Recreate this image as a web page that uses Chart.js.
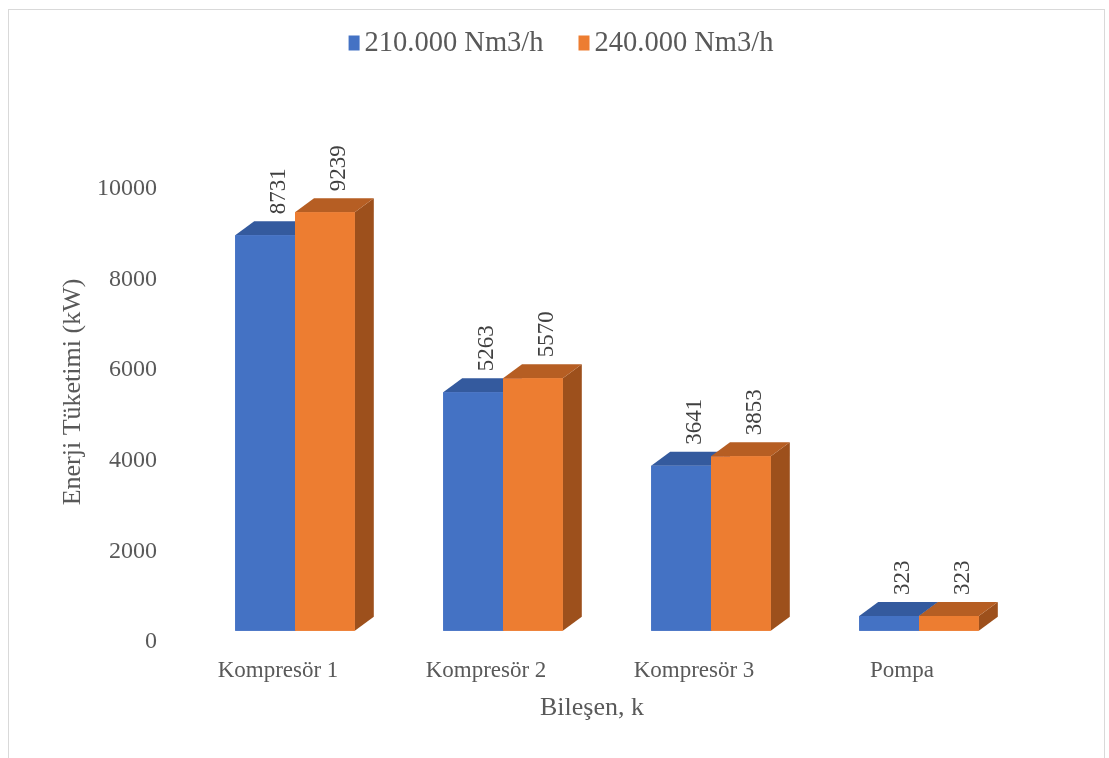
<!DOCTYPE html>
<html>
<head>
<meta charset="utf-8">
<script src="https://cdn.jsdelivr.net/npm/chart.js@4.4.1/dist/chart.umd.min.js"></script>
<style>
  html, body { margin: 0; padding: 0; background: #fff; }
</style>
</head>
<body>
<canvas id="energyChart" width="1109" height="758"></canvas>
<script>
const categories = ['Kompresör 1', 'Kompresör 2', 'Kompresör 3', 'Pompa'];
const seriesNames = ['210.000 Nm3/h', '240.000 Nm3/h'];
const flow210 = [8731, 5263, 3641, 323];
const flow240 = [9239, 5570, 3853, 323];
const yMax = 10000;
const yStep = 2000;

const FONT = '"Liberation Serif", "Times New Roman", serif';
const textGrey = '#595959';
const depth = { dx: 19, dy: 14 };
const faces = [
  { front: '#4472C4', top: '#345A9E', side: '#2C4D88' },
  { front: '#ED7D31', top: '#B65E23', side: '#9D501C' }
];

// fake 3d: side + top faces, then front again so the next bar covers it
const bars3d = {
  id: 'bars3d',
  beforeDraw(chart) {
    const { ctx, width, height } = chart;
    ctx.save();
    ctx.fillStyle = '#fff';
    ctx.fillRect(0, 0, width, height);
    ctx.strokeStyle = '#d9d9d9';
    ctx.lineWidth = 1;
    ctx.strokeRect(8.5, 9.5, 1096, height + 5);
    ctx.restore();
  },
  afterDatasetsDraw(chart) {
    const ctx = chart.ctx;
    const { dx, dy } = depth;
    chart.data.datasets.forEach((ds, i) => {
      const meta = chart.getDatasetMeta(i);
      meta.data.forEach((bar, j) => {
        const { x, y, base, width } = bar.getProps(['x', 'y', 'base', 'width'], true);
        const l = x - width / 2, r = x + width / 2;
        ctx.save();
        ctx.fillStyle = faces[i].side;
        ctx.beginPath();
        ctx.moveTo(r, y); ctx.lineTo(r + dx, y - dy);
        ctx.lineTo(r + dx, base - dy); ctx.lineTo(r, base);
        ctx.closePath(); ctx.fill();
        ctx.fillStyle = faces[i].top;
        ctx.beginPath();
        ctx.moveTo(l, y); ctx.lineTo(l + dx, y - dy);
        ctx.lineTo(r + dx, y - dy); ctx.lineTo(r, y);
        ctx.closePath(); ctx.fill();
        ctx.restore();
        bar.draw(ctx);

        ctx.save();
        ctx.translate(x + 14, y - dy - 7);
        ctx.rotate(-Math.PI / 2);
        ctx.font = '23px ' + FONT;
        ctx.fillStyle = '#404040';
        ctx.textAlign = 'left';
        ctx.textBaseline = 'middle';
        ctx.fillText(String(ds.data[j]), 0, 0);
        ctx.restore();
      });
    });
  },
  afterDraw(chart) {
    const ctx = chart.ctx;
    ctx.save();
    // legend
    ctx.font = '28.5px ' + FONT;
    ctx.textBaseline = 'middle';
    ctx.textAlign = 'left';
    const boxW = 11, boxH = 15, gap = 5, itemGap = 35;
    const widths = chart.data.datasets.map(d => ctx.measureText(d.label).width);
    const total = widths.reduce((a, w) => a + boxW + gap + w, 0) + itemGap * (widths.length - 1);
    let lx = 561 - total / 2;
    const ly = 43;
    chart.data.datasets.forEach((d, i) => {
      ctx.fillStyle = d.backgroundColor;
      ctx.fillRect(lx, ly - boxH / 2, boxW, boxH);
      lx += boxW + gap;
      ctx.fillStyle = textGrey;
      ctx.fillText(d.label, lx, ly + 1);
      lx += widths[i] + itemGap;
    });
    // axis titles
    ctx.font = '26px ' + FONT;
    ctx.fillStyle = textGrey;
    ctx.textAlign = 'center';
    ctx.fillText('Bileşen, k', 592, 708);
    ctx.translate(73, 392);
    ctx.rotate(-Math.PI / 2);
    ctx.fillText('Enerji Tüketimi (kW)', 0, 0);
    ctx.restore();
  }
};

new Chart(document.getElementById('energyChart'), {
  type: 'bar',
  data: {
    labels: categories,
    datasets: [
      { label: seriesNames[0], data: flow210, backgroundColor: faces[0].front, yAxisID: 'yb' },
      { label: seriesNames[1], data: flow240, backgroundColor: faces[1].front, yAxisID: 'yb' }
    ]
  },
  options: {
    responsive: false,
    animation: false,
    layout: { padding: { top: 189, right: 86, bottom: 0, left: 0 } },
    datasets: {
      bar: { categoryPercentage: 0.575, barPercentage: 1.0, borderWidth: 0 }
    },
    plugins: {
      legend: { display: false },
      tooltip: { enabled: false }
    },
    scales: {
      x: {
        grid: { display: false, drawTicks: false },
        border: { display: false },
        ticks: {
          color: textGrey,
          font: { family: FONT, size: 23 },
          padding: 15,
          labelOffset: -17,
          maxRotation: 0
        },
        afterFit(scale) { scale.height = 116; }
      },
      y: {
        min: 0,
        max: yMax,
        grid: { display: false, drawTicks: false },
        border: { display: false },
        ticks: {
          stepSize: yStep,
          color: textGrey,
          font: { family: FONT, size: 24 },
          padding: 34,
          callback: v => String(v)
        },
        afterFit(scale) { scale.width = 191; }
      },
      // bars sit slightly in front of the tick baseline (3d floor)
      yb: {
        display: false,
        min: -250,
        max: yMax - 250
      }
    }
  },
  plugins: [bars3d]
});
</script>
</body>
</html>
